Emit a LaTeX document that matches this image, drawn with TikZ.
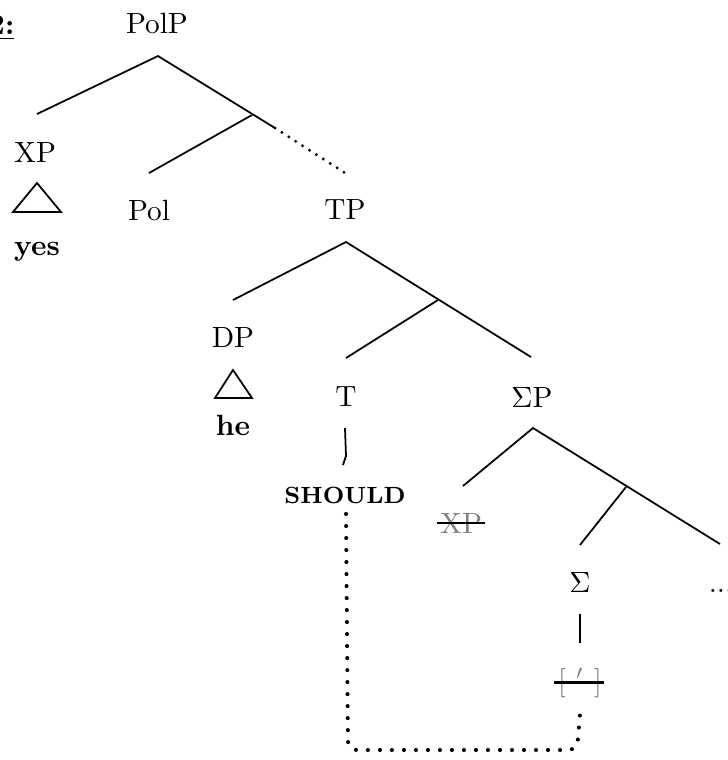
\documentclass[tikz,border=0pt]{standalone}
\tikzset{
  lbl/.style={anchor=base, inner sep=0pt},
  gone/.style={lbl, text=gray},
  branch/.style={line width=0.6pt},
  strike/.style={line width=0.8pt},
  dotbranch/.style={line width=1.1pt, line cap=round, dash pattern=on 0pt off 2.8pt},
  movepath/.style={line width=1.4pt, line cap=round, dash pattern=on 0pt off 4.1pt, rounded corners=3pt}
}
\begin{document}
\begin{tikzpicture}[x=0.3415pt,y=-0.3415pt]
\useasboundingbox (0,0) rectangle (728,760);
\node[lbl, anchor=base east] (ex) at (15,34) {\underline{\textbf{2:}}};
% labels
\node[lbl] (polp) at (157,33) {PolP};
\node[lbl] (xp) at (35,162) {XP};
\node[lbl] (yes) at (37,255) {\textbf{yes}};
\node[lbl] (pol) at (149,220) {Pol};
\node[lbl] (tp) at (345,219) {TP};
\node[lbl] (dp) at (233,347) {DP};
\node[lbl] (he) at (233,435) {\textbf{he}};
\node[lbl] (t) at (346,406) {T};
\node[lbl] (should) at (345,503) {\textbf{\footnotesize SHOULD}};
\node[lbl] (sigp) at (532,407) {$\Sigma$P};
\node[gone] (xpgone) at (461,533) {XP};
\node[lbl] (sig) at (580,592) {$\Sigma$};
\node[lbl] (rest) at (721,592) {...};
\node[gone] (feat) at (580,690) {[ $'$ ]};
% branch points
\coordinate (polp-a) at (158,56);
\coordinate (xp-t) at (37,114);
\coordinate (pol-bar) at (252,115);
\coordinate (pol-t) at (149,173);
\coordinate (polp-cut) at (275,128);
\coordinate (tp-t) at (345,173);
\coordinate (tp-a) at (346,242);
\coordinate (dp-t) at (233,300);
\coordinate (t-bar) at (438,300);
\coordinate (t-t) at (346,358);
\coordinate (sigp-t) at (531,357);
\coordinate (sigp-a) at (533,428);
\coordinate (xpg-t) at (463,486);
\coordinate (sig-bar) at (626,487);
\coordinate (sig-t) at (580,545);
\coordinate (rest-t) at (720,544);
\coordinate (t-b) at (345,428);
\coordinate (should-t) at (343,465);
\coordinate (sig-b) at (580,614);
\coordinate (feat-t) at (580,643);
\coordinate (mv-a) at (346,514);
\coordinate (mv-b) at (580,714);
% tree
\draw[branch] (xp-t) -- (polp-a) -- (polp-cut);
\draw[dotbranch] (polp-cut) -- (tp-t);
\draw[branch] (pol-t) -- (pol-bar);
\draw[branch] (dp-t) -- (tp-a) -- (sigp-t);
\draw[branch] (t-t) -- (t-bar);
\draw[branch] (xpg-t) -- (sigp-a) -- (rest-t);
\draw[branch] (sig-t) -- (sig-bar);
\draw[branch] (t-b) -- (346,456) -- (should-t);
\draw[branch] (sig-b) -- (feat-t);
\draw[branch] (37,183) -- (13,212) -- (61,212) -- cycle;%roofs
\draw[branch] (233,370) -- (215,398) -- (252,398) -- cycle;
% strike-outs
\draw[strike] ([xshift=-0.7pt]xpgone.west) -- ([xshift=0.8pt]xpgone.east);
\draw[strike] ([xshift=-1pt]feat.west) -- ([xshift=0.4pt]feat.east);
% movement
\draw[movepath] (mv-a) -- (348,750) -- (577,750) -- (mv-b);
\end{tikzpicture}
\end{document}
